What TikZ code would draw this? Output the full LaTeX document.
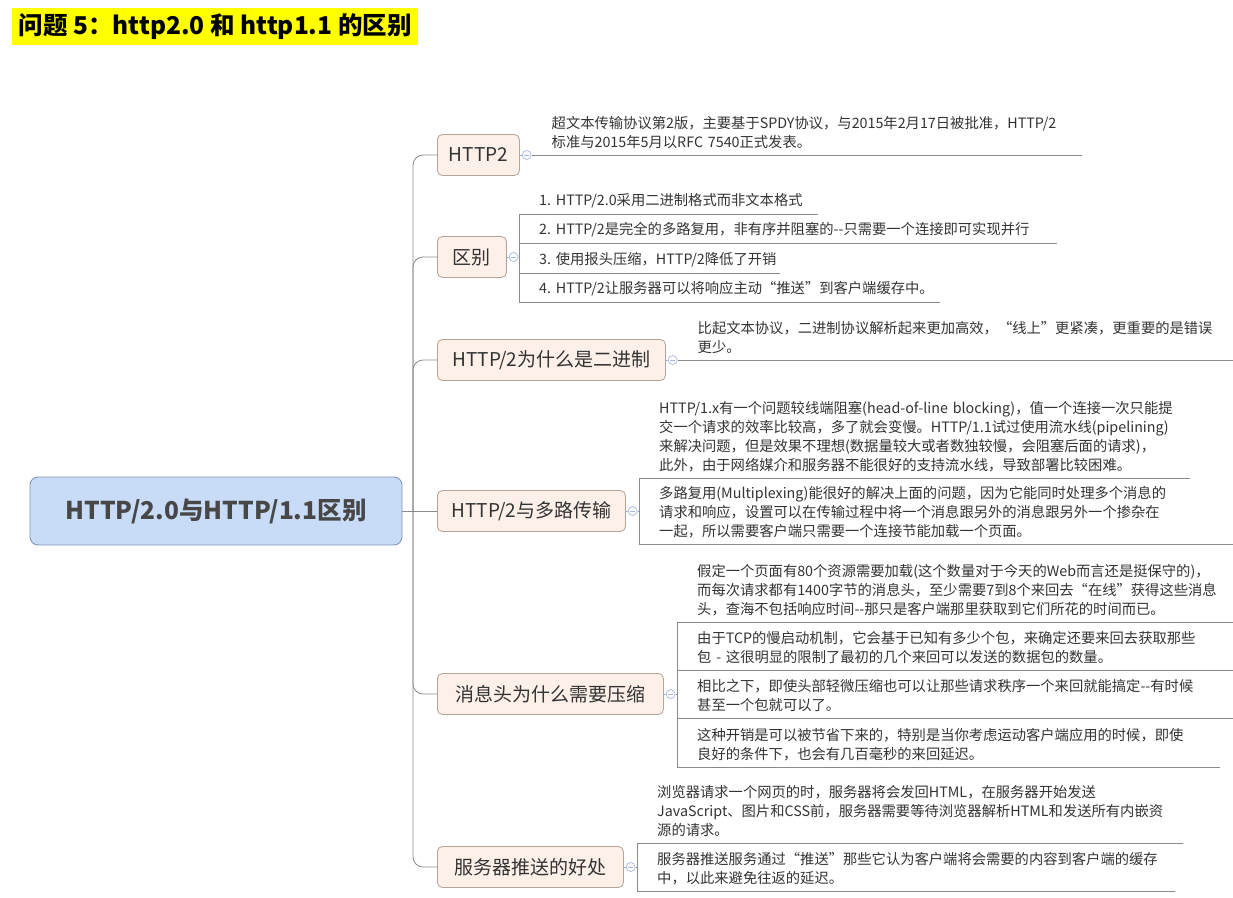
\documentclass[tikz,border=0pt]{standalone}
\usepackage{fontspec}
\setmainfont{Noto Sans CJK SC}
\usetikzlibrary{positioning,calc}
\definecolor{hilite}{HTML}{FFFF00}
\definecolor{rootfill}{HTML}{C8DBF7}
\definecolor{rootline}{HTML}{8296B6}
\definecolor{topfill}{HTML}{FDF0E9}
\definecolor{topline}{HTML}{B3A396}
\definecolor{wirec}{HTML}{8A8A8A}
\definecolor{foldc}{HTML}{A2B7DC}
\definecolor{ink}{HTML}{333333}
\hyphenpenalty=10000
\exhyphenpenalty=10000
\tikzset{
  ttl/.style    ={fill=hilite, text=black, anchor=north west, inner sep=0pt,
                  font=\fontsize{24.5}{28}\selectfont\bfseries,
                  minimum width=406pt, minimum height=37pt},
  root/.style   ={draw=rootline, line width=0.9pt, rounded corners=8pt, fill=rootfill,
                  text=ink!90, font=\fontsize{24.5}{28}\selectfont\bfseries,
                  minimum width=372pt, minimum height=68pt},
  topic/.style  ={draw=topline, line width=0.8pt, rounded corners=5pt, fill=topfill,
                  text=ink, font=\fontsize{19}{22}\selectfont, anchor=west,
                  inner xsep=6pt, minimum height=41pt},
  fold/.style   ={circle, draw=foldc, fill=white, line width=0.7pt, inner sep=0pt,
                  minimum size=9pt,
                  path picture={\draw[foldc, line width=0.7pt]
                    ([xshift=2pt]path picture bounding box.west) --
                    ([xshift=-2pt]path picture bounding box.east);}},
  note/.style   ={anchor=south west, align=left, text=ink, inner xsep=20pt,
                  inner ysep=6pt, font=\fontsize{14.3}{19}\selectfont},
  wire/.style   ={draw=wirec, line width=0.8pt},
  branch/.style ={wire, rounded corners=10pt},
}

\begin{document}
\begin{tikzpicture}[x=1pt, y=-1pt]
  \useasboundingbox (0,0) rectangle (1233,897);

  % ---- title ----
  \node[ttl] (title) at (12,8) {问题 5：http2.0 和 http1.1 的区别};

  % ---- root + trunk ----
  \node[root] (root) at (216,511) {HTTP/2.0与HTTP/1.1区别};
  \coordinate (trunk) at (413,511);
  \draw[wire] (root.east) -- (trunk);

  % ---- main topics ----
  \node[topic, minimum width=82pt]  (t1) at (437,155) {HTTP2};
  \node[topic, minimum width=69pt]  (t2) at (437,257) {区别};
  \node[topic, minimum width=228pt] (t3) at (437,360) {HTTP/2为什么是二进制};
  \node[topic, minimum width=188pt] (t4) at (437,511) {HTTP/2与多路传输};
  \node[topic, minimum width=226pt] (t5) at (437,694) {消息头为什么需要压缩};
  \node[topic, minimum width=186pt] (t6) at (437,867) {服务器推送的好处};
  \foreach \i in {1,2,3,5,6}
    \draw[branch] (trunk) |- (t\i.west);
  \draw[wire] (trunk) -- (t4.west);

  % fold markers
  \foreach \i in {1,...,6} {
    \node[fold, right=2pt of t\i] (f\i) {};
    \draw[foldc, line width=0.7pt] (t\i.east) -- (f\i.west);
  }

  % ---- HTTP2 ----
  \node[note, text width=510pt] (n1) at (f1.east)
    {超文本传输协议第2版，主要基于SPDY协议，与2015年2月17日被批准，HTTP/2\\
     标准与2015年5月以RFC~7540正式发表。};

  % ---- 区别 ----
  \node[note, text width=259pt] (n21) at (519,214) {1.~HTTP/2.0采用二进制格式而非文本格式};
  \node[note, text width=498pt] (n22) at (519,243)
    {2.~HTTP/2是完全的多路复用，非有序并阻塞的-{}-只需要一个连接即可实现并行};
  \node[note, text width=221pt] (n23) at (519,273) {3.~使用报头压缩，HTTP/2降低了开销};
  \node[note, text width=381pt] (n24) at (519,302)
    {4.~HTTP/2让服务器可以将响应主动“推送”到客户端缓存中。};
  \draw[wire] (n21.south west) -- (n24.south west);
  \draw[wire] (f2.east) -- (f2.east -| n21.south west);

  % ---- 二进制 ----
  \node[note, text width=517pt] (n3) at (f3.east)
    {比起文本协议，二进制协议解析起来更加高效，“线上”更紧凑，更重要的是错误\\
     更少。};

  % ---- 多路传输 ----
  \node[note, text width=511pt] (n41) at (639,478)
    {HTTP/1.x有一个问题较线端阻塞(head-of-line~blocking)，值一个连接一次只能提\\
     交一个请求的效率比较高，多了就会变慢。HTTP/1.1试过使用流水线(pipelining)\\
     来解决问题，但是效果不理想(数据量较大或者数独较慢，会阻塞后面的请求)，\\
     此外，由于网络媒介和服务器不能很好的支持流水线，导致部署比较困难。};
  \node[note, text width=554pt] (n42) at (639,544)
    {多路复用(Multiplexing)能很好的解决上面的问题，因为它能同时处理多个消息的\\
     请求和响应，设置可以在传输过程中将一个消息跟另外的消息跟另外一个掺杂在\\
     一起，所以需要客户端只需要一个连接节能加载一个页面。};
  \draw[wire] (n41.south west) -- (n42.south west);
  \draw[wire] (f4.east) -- (f4.east -| n41.south west);

  % ---- 压缩 ----
  \node[note, text width=516pt] (n51) at (677,622)
    {假定一个页面有80个资源需要加载(这个数量对于今天的Web而言还是挺保守的)，\\
     而每次请求都有1400字节的消息头，至少需要7到8个来回去“在线”获得这些消息\\
     头，查海不包括响应时间-{}-那只是客户端那里获取到它们所花的时间而已。};
  \node[note, text width=516pt] (n52) at (677,670)
    {由于TCP的慢启动机制，它会基于已知有多少个包，来确定还要来回去获取那些\\
     包~-~这很明显的限制了最初的几个来回可以发送的数据包的数量。};
  \node[note, text width=516pt] (n53) at (677,718)
    {相比之下，即使头部轻微压缩也可以让那些请求秩序一个来回就能搞定-{}-有时候\\
     甚至一个包就可以了。};
  \node[note, text width=503pt] (n54) at (677,767)
    {这种开销是可以被节省下来的，特别是当你考虑运动客户端应用的时候，即使\\
     良好的条件下，也会有几百毫秒的来回延迟。};
  \draw[wire] (n51.south west) -- (n54.south west);
  \draw[wire] (f5.east) -- (f5.east -| n51.south west);

  % ---- 推送 ----
  \node[note, text width=506pt] (n61) at (637,843)
    {浏览器请求一个网页的时，服务器将会发回HTML，在服务器开始发送\\
     JavaScript、图片和CSS前，服务器需要等待浏览器解析HTML和发送所有内嵌资\\
     源的请求。};
  \node[note, text width=498pt] (n62) at (637,891)
    {服务器推送服务通过“推送”那些它认为客户端将会需要的内容到客户端的缓存\\
     中，以此来避免往返的延迟。};
  \draw[wire] (n61.south west) -- (n62.south west);
  \draw[wire] (f6.east) -- (f6.east -| n61.south west);

  % underlines
  \foreach \n in {n1,n21,n22,n23,n24,n3,n41,n42,n51,n52,n53,n54,n61,n62}
    \draw[wire] (\n.south west) -- (\n.south east);

\end{tikzpicture}
\end{document}
